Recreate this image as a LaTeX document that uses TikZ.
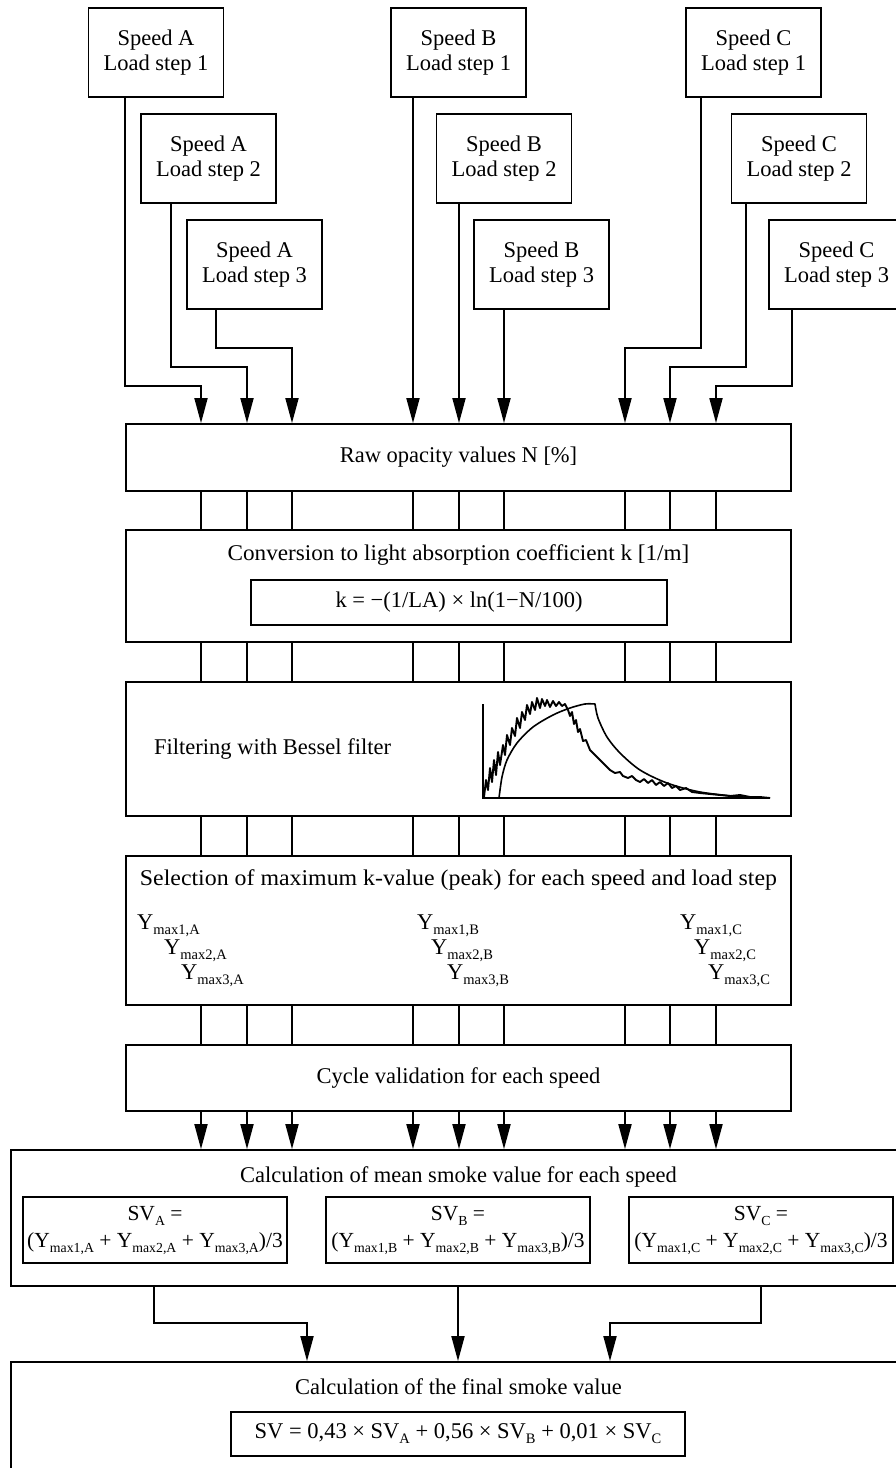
\documentclass[tikz,border=0pt]{standalone}
\usepackage{fontspec}
\setmainfont{Liberation Serif}
\usetikzlibrary{arrows.meta}
\newcommand{\mysub}[1]{\raisebox{-5pt}{\fontsize{14.5}{14.5}\selectfont #1}}
\newcommand{\mysubs}[1]{\raisebox{-5pt}{\fontsize{13.8}{13.8}\selectfont #1}}
\begin{document}
\begin{tikzpicture}[x=1pt,y=-1pt,font=\fontsize{22.5}{25}\selectfont,
  pbox/.style={draw, line width=1.8pt, inner sep=0pt, align=center, fill=white},
  tbox/.style={pbox, minimum width=135pt, minimum height=89pt},
  chainbox/.style={pbox, minimum width=665pt},
  svbox/.style={pbox, minimum width=264pt, minimum height=66pt, font=\fontsize{21.5}{27}\selectfont},
  lbl/.style={inner sep=0pt},
  ylbl/.style={inner sep=0pt, anchor=west},
  ln/.style={line width=1.8pt},
  arr/.style={line width=1.8pt, -{Triangle[length=25pt,width=13pt]}},
  curve/.style={line width=1.6pt, line join=round}]
\clip (0,0) rectangle (896,1468);
\fill[white] (0,0) rectangle (896,1468);

% column coordinates
\coordinate (cA1) at (201,0); \coordinate (cA2) at (247,0); \coordinate (cA3) at (292,0);
\coordinate (cB1) at (413,0); \coordinate (cB2) at (459,0); \coordinate (cB3) at (504,0);
\coordinate (cC1) at (625,0); \coordinate (cC2) at (670,0); \coordinate (cC3) at (716,0);
\coordinate (eA1) at (125,0); \coordinate (eA2) at (171,0); \coordinate (eA3) at (216,0);
\coordinate (eC1) at (701,0); \coordinate (eC2) at (746,0); \coordinate (eC3) at (792,0);
\coordinate (lv1) at (0,348); \coordinate (lv2) at (0,367); \coordinate (lv3) at (0,386);
\coordinate (eSA) at (154,0); \coordinate (tSA) at (307,0);
\coordinate (eSB) at (458,0);
\coordinate (eSC) at (761,0); \coordinate (tSC) at (610,0);
\coordinate (lvb) at (0,1323);

% top boxes
\node[tbox] (A1) at (156,52.5) {Speed A\\Load step 1};
\node[tbox] (A2) at (208.5,158.5) {Speed A\\Load step 2};
\node[tbox] (A3) at (254.5,264.5) {Speed A\\Load step 3};
\node[tbox] (B1) at (458.5,52.5) {Speed B\\Load step 1};
\node[tbox] (B2) at (504,158.5) {Speed B\\Load step 2};
\node[tbox] (B3) at (541.5,264.5) {Speed B\\Load step 3};
\node[tbox] (C1) at (753.5,52.5) {Speed C\\Load step 1};
\node[tbox] (C2) at (799,158.5) {Speed C\\Load step 2};
\node[tbox] (C3) at (836.5,264.5) {Speed C\\Load step 3};

% chain boxes
\node[chainbox, minimum height=67pt] (raw) at (458.5,457.5) {Raw opacity values N [\%]};
\node[chainbox, minimum height=112pt] (conv) at (458.5,586) {};
\node[lbl] (convt) at (458.5,555) {\scalebox{1.03}[1]{Conversion to light absorption coefficient k [1/m]}};
\node[pbox, minimum width=416pt, minimum height=45pt] (convf) at (459,602.5) {k = −(1/LA) × ln(1−N/100)};
\node[chainbox, minimum height=134pt] (filt) at (458.5,749) {};
\node[lbl, anchor=west] (filtt) at (154,749) {Filtering with Bessel filter};
\node[chainbox, minimum height=149pt] (sel) at (458.5,930.5) {};
\node[lbl] (selt) at (458.5,880) {\scalebox{1.06}[1]{Selection of maximum k-value (peak) for each speed and load step}};
\node[ylbl] (y1a) at (137,926) {Y\mysub{max1,A}};
\node[ylbl] (y2a) at (164,951) {Y\mysub{max2,A}};
\node[ylbl] (y3a) at (181,976) {Y\mysub{max3,A}};
\node[ylbl] (y1b) at (417,926) {Y\mysub{max1,B}};
\node[ylbl] (y2b) at (431,951) {Y\mysub{max2,B}};
\node[ylbl] (y3b) at (447,976) {Y\mysub{max3,B}};
\node[ylbl] (y1c) at (680,926) {Y\mysub{max1,C}};
\node[ylbl] (y2c) at (694,951) {Y\mysub{max2,C}};
\node[ylbl] (y3c) at (708,976) {Y\mysub{max3,C}};
\node[chainbox, minimum height=66pt] (cyc) at (458.5,1078) {Cycle validation for each speed};

\node[pbox, minimum width=895pt, minimum height=136pt] (mean) at (458.5,1218) {};
\node[lbl] (meant) at (458.5,1177) {Calculation of mean smoke value for each speed};
\node[svbox] (sva) at (155,1230) {SV\mysubs{A} =\\(Y\mysubs{max1,A} + Y\mysubs{max2,A} + Y\mysubs{max3,A})/3};
\node[svbox] (svb) at (458,1230) {SV\mysubs{B} =\\(Y\mysubs{max1,B} + Y\mysubs{max2,B} + Y\mysubs{max3,B})/3};
\node[svbox] (svc) at (761,1230) {SV\mysubs{C} =\\(Y\mysubs{max1,C} + Y\mysubs{max2,C} + Y\mysubs{max3,C})/3};

\node[pbox, minimum width=895pt, minimum height=138pt] (fin) at (458.5,1431) {};
\node[lbl] (fint) at (458.5,1387) {Calculation of the final smoke value};
\node[pbox, minimum width=454pt, minimum height=44pt] (finf) at (458,1434) {SV = 0,43 × SV\mysub{A} + 0,56 × SV\mysub{B} + 0,01 × SV\mysub{C}};

% top connectors
\draw[arr] (A1.south -| eA1) -- (eA1 |- lv3) -| (raw.north -| cA1);
\draw[arr] (A2.south -| eA2) -- (eA2 |- lv2) -| (raw.north -| cA2);
\draw[arr] (A3.south -| eA3) -- (eA3 |- lv1) -| (raw.north -| cA3);
\draw[arr] (B1.south -| cB1) -- (raw.north -| cB1);
\draw[arr] (B2.south -| cB2) -- (raw.north -| cB2);
\draw[arr] (B3.south -| cB3) -- (raw.north -| cB3);
\draw[arr] (C1.south -| eC1) -- (eC1 |- lv1) -| (raw.north -| cC1);
\draw[arr] (C2.south -| eC2) -- (eC2 |- lv2) -| (raw.north -| cC2);
\draw[arr] (C3.south -| eC3) -- (eC3 |- lv3) -| (raw.north -| cC3);

% chain connectors
\foreach \c in {cA1,cA2,cA3,cB1,cB2,cB3,cC1,cC2,cC3}{
  \draw[ln] (raw.south -| \c) -- (conv.north -| \c);
  \draw[ln] (conv.south -| \c) -- (filt.north -| \c);
  \draw[ln] (filt.south -| \c) -- (sel.north -| \c);
  \draw[ln] (sel.south -| \c) -- (cyc.north -| \c);
  \draw[arr] (cyc.south -| \c) -- (mean.north -| \c);
}

% bottom connectors
\draw[arr] (mean.south -| eSA) -- (eSA |- lvb) -| (fin.north -| tSA);
\draw[arr] (mean.south -| eSB) -- (fin.north -| eSB);
\draw[arr] (mean.south -| eSC) -- (eSC |- lvb) -| (fin.north -| tSC);

% filter chart
\draw[line width=1.4pt] (483,704) -- (483,798) -- (770,798);
\draw[curve] plot[smooth] coordinates {(499,798) (502,777) (507,760) (517,743) (533,727) (553,715) (570,708) (585,704) (595,704)}
  -- plot[smooth] coordinates {(595,704) (598,718) (607,737) (620,753) (640,770) (667,783) (700,792) (743,797) (770,798)};
\draw[line width=1.9pt, line join=round] plot coordinates {(484,797) (486,780) (488,790) (490,768) (492,782) (494,760) (496,775) (498,752) (500,765) (503,745) (505,755) (507,735) (510,745) (512,728) (515,736) (517,718) (520,728) (522,712) (525,720) (527,705) (530,714) (532,702) (535,710) (537,698) (540,708) (542,699) (545,706) (547,700) (550,707) (553,701) (556,706) (559,702) (562,706) (565,704) (568,710) (570,716) (572,712) (574,724) (576,720) (578,732) (580,729) (583,741) (586,740) (590,750) (595,755) (600,760) (605,765) (610,770) (615,773) (620,772) (623,776) (628,778) (632,776) (636,780) (640,782) (644,779) (648,783) (652,780) (656,785) (660,782) (664,786) (668,783) (672,788) (676,786) (680,790) (686,788) (692,792) (700,793) (710,794) (720,795) (730,796) (740,795) (750,797) (760,797) (770,798)};
\end{tikzpicture}
\end{document}
